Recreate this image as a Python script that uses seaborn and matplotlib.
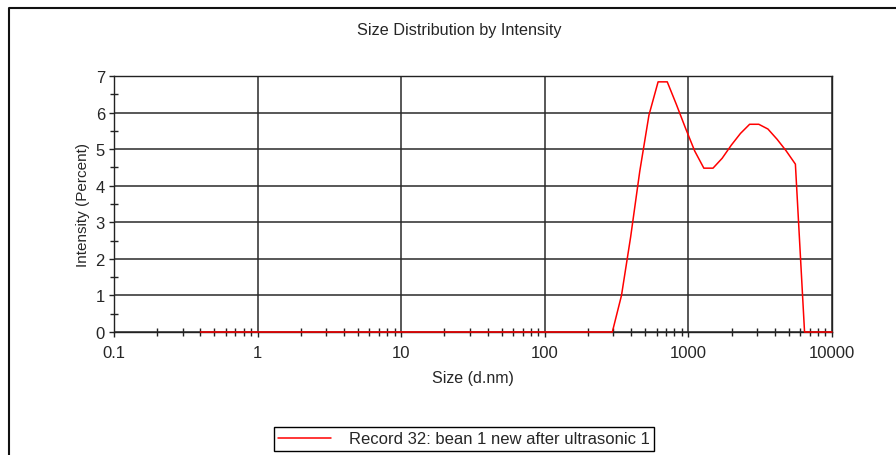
import matplotlib
matplotlib.use("Agg")
import matplotlib.pyplot as plt
import seaborn as sns
import pandas as pd
from matplotlib.lines import Line2D
from matplotlib.ticker import FixedLocator, MultipleLocator, FuncFormatter, LogLocator, NullFormatter

# size classes (d.nm) and intensity (%)
sizes = [0.4, 0.4632, 0.5365, 0.6213, 0.7195, 0.8332, 0.9649, 1.117, 1.294, 1.499,
         1.736, 2.01, 2.328, 2.696, 3.122, 3.615, 4.187, 4.849, 5.615, 6.503,
         7.531, 8.721, 10.1, 11.7, 13.54, 15.69, 18.17, 21.04, 24.36, 28.21,
         32.67, 37.84, 43.82, 50.75, 58.77, 68.06, 78.82, 91.28, 105.7, 122.4,
         141.8, 164.2, 190.1, 220.2, 255.0, 295.3, 342.0, 396.1, 458.7, 531.2,
         615.1, 712.4, 825.0, 955.4, 1106, 1281, 1484, 1718, 1990, 2305,
         2669, 3091, 3580, 4145, 4801, 5560, 6439, 7456, 8635, 10000]
intensity = [0, 0, 0, 0, 0, 0, 0, 0, 0, 0,
             0, 0, 0, 0, 0, 0, 0, 0, 0, 0,
             0, 0, 0, 0, 0, 0, 0, 0, 0, 0,
             0, 0, 0, 0, 0, 0, 0, 0, 0, 0,
             0, 0, 0, 0, 0, 0, 1.0, 2.6, 4.4, 5.93,
             6.84, 6.84, 6.22, 5.57, 4.95, 4.48, 4.48, 4.75, 5.11, 5.43,
             5.68, 5.68, 5.55, 5.27, 4.95, 4.59, 0, 0, 0, 0]
record = "Record 32: bean 1 new after ultrasonic 1"
x_ticks = [0.1, 1, 10, 100, 1000, 10000]
y_ticks = [0, 1, 2, 3, 4, 5, 6, 7]

sns.set_style("white")
plt.rcParams["font.family"] = ["Liberation Sans", "DejaVu Sans"]

df = pd.DataFrame({"size": sizes, "intensity": intensity})

fig = plt.figure(figsize=(8.96, 4.56), dpi=100)
ax = fig.add_axes([114 / 896, 1 - 333 / 456, 718 / 896, 256 / 456])

sns.lineplot(data=df, x="size", y="intensity", ax=ax, color="#ff0000",
             linewidth=1.1, label=record, zorder=5)
for ln in ax.get_lines():
    ln.set_clip_on(False)

ax.set_xscale("log")
ax.set_xlim(0.1, 10000)
ax.set_ylim(0, 7)
ax.xaxis.set_major_locator(FixedLocator(x_ticks))
ax.xaxis.set_major_formatter(FuncFormatter(lambda v, p: f"{v:g}"))
ax.xaxis.set_minor_locator(LogLocator(base=10, subs=range(2, 10), numticks=20))
ax.xaxis.set_minor_formatter(NullFormatter())
ax.yaxis.set_major_locator(FixedLocator(y_ticks))
ax.yaxis.set_minor_locator(MultipleLocator(0.5))

ax.grid(True, which="major", color="#2a2a2a", linewidth=1.1)
for s in ax.spines.values():
    s.set_color("#222222")
    s.set_linewidth(1.0)
    s.set_zorder(2)
ax.tick_params(which="major", direction="out", length=3.5, width=1, color="#222222",
               labelsize=12, pad=3, bottom=True, left=True)
ax.tick_params(axis="x", which="major", pad=6)
ax.tick_params(which="minor", direction="inout", length=6, width=1, color="#222222",
               bottom=True, left=True)

ax.set_xlabel("Size (d.nm)", fontsize=11.5, labelpad=7)
ax.set_ylabel("Intensity (Percent)", fontsize=11, labelpad=4)
fig.text(459 / 896, 1 - 30 / 456, "Size Distribution by Intensity",
         ha="center", va="center", fontsize=11.7)

ax.legend(loc="center", bbox_to_anchor=(464 / 896, 1 - 440 / 456),
          bbox_transform=fig.transFigure, frameon=True, fancybox=False,
          edgecolor="black", framealpha=1, fontsize=12, handlelength=3.2,
          handletextpad=1.1, borderpad=0.25, borderaxespad=0)
ax.get_legend().get_frame().set_linewidth(1.0)

# outer frame (left and top edges only)
fx = 9 / 896
fy = 1 - 8.5 / 456
fig.add_artist(Line2D([fx, fx, 1], [0, fy, fy], transform=fig.transFigure,
                      color="#111111", linewidth=1.5))

fig.savefig("out.png", dpi=100)
